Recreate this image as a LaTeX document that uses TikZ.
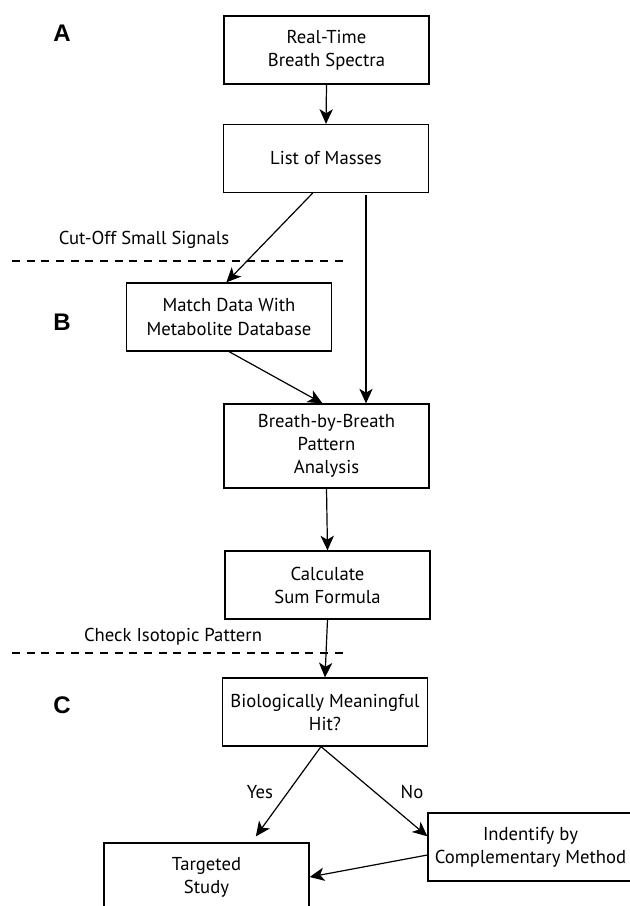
\documentclass[tikz,border=0pt]{standalone}
\usepackage{fontspec}
\setmainfont{PT Sans}
\newfontfamily\panelfont{Liberation Sans}
\usetikzlibrary{arrows.meta}

\begin{document}
\begin{tikzpicture}[x=0.75pt, y=-0.75pt,
    stepbox/.style={draw, line width=0.9pt, minimum width=153.75pt, minimum height=51pt,
        align=center, inner sep=0pt, font=\fontsize{14}{17.25}\selectfont},
    arr/.style={line width=0.9pt, -{Stealth[length=11pt,width=10pt,inset=3pt]}},
    cut/.style={line width=0.9pt, dash pattern=on 6pt off 5pt},
    note/.style={inner sep=0pt, font=\fontsize{14}{17.25}\selectfont},
    panel/.style={inner sep=0pt, font=\panelfont\bfseries\fontsize{18}{18}\selectfont}]
    \clip (0,0) rectangle (630,906);
    % panel letters
    \node[panel] (pa) at (62,33) {A};
    \node[panel] (pb) at (62,322) {B};
    \node[panel] (pc) at (62,705) {C};
    % boxes
    \node[stepbox] (spectra) at (326.5,50) {Real-Time\\Breath Spectra};
    \node[stepbox] (masses) at (326,158.5) {List of Masses};
    \node[stepbox] (match) at (229,317) {Match Data With\\Metabolite Database};
    \node[stepbox, minimum height=63pt] (pattern) at (326.5,446) {Breath-by-Breath\\Pattern\\Analysis};
    \node[stepbox] (formula) at (327.5,585) {Calculate\\Sum Formula};
    \node[stepbox] (hit) at (325,712) {Biologically Meaningful\\Hit?};
    \node[stepbox] (targeted) at (206.5,877) {Targeted\\Study};
    \node[stepbox] (method) at (530.5,847) {Indentify by\\Complementary Method};
    % cut-off lines
    \coordinate (cutA) at (12,261);
    \coordinate (cutB) at (12,653);
    \draw[cut] (cutA) -- ++(331,0);
    \draw[cut] (cutB) -- ++(331,0);
    \node[note] (small) at (144,240) {Cut-Off Small Signals};
    \node[note] (iso) at (173,637) {Check Isotopic Pattern};
    % connectors
    \draw[arr] (spectra.south) -- (masses.north);
    \draw[arr] ([xshift=-10pt]masses.south) -- ([xshift=-2pt]match.north);
    \coordinate (tap) at (366,195);
    \draw[arr] (tap) -- (tap |- pattern.north);
    \draw[arr] (match.south) -- ([xshift=-3pt]pattern.north);
    \draw[arr] (pattern.south) -- (formula.north);
    \draw[arr] (formula.south) -- (hit.north);
    \draw[arr] ([xshift=-3pt]hit.south) -- ([xshift=37pt,yshift=4.5pt]targeted.north);
    \draw[arr] ([xshift=-3pt]hit.south) -- ([yshift=8pt]method.west);
    \draw[arr] ([yshift=-6pt]method.west) -- (targeted.east);
    \node[note] (yes) at (260,792) {Yes};
    \node[note] (no) at (412,792) {No};
\end{tikzpicture}
\end{document}
